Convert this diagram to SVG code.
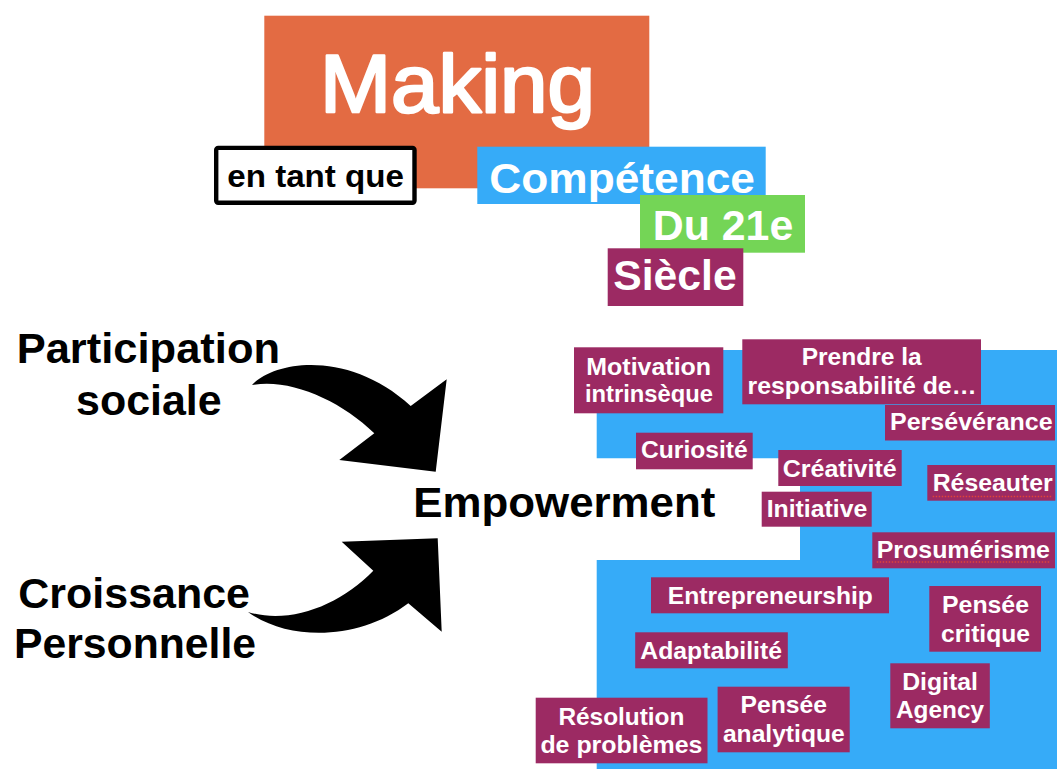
<svg xmlns="http://www.w3.org/2000/svg" width="1057" height="769" viewBox="0 0 1057 769">
<style>
text{font-family:"Liberation Sans",Arial,Helvetica,sans-serif;font-weight:bold}
.w{fill:#fff}
.k{fill:#000}
.big{font-size:43px}
.sm{font-size:24px}
.sk{fill:#9C2A63}
.sp{stroke:#E0443A;stroke-width:1.3;stroke-dasharray:1.5 1.5;fill:none}
</style>
<rect x="0" y="0" width="1057" height="769" fill="#fff"/>
<g id="background">
<path d="M596.7,350 H1057 V769 H596.7 V560 H800 V458.3 H596.7 Z" fill="#36ABF8"/>
</g>
<g id="title-making">
<rect x="264.3" y="15.7" width="385" height="172.6" fill="#E36B43"/>
<text x="320" y="111.7" font-size="81.5" class="w" stroke="#fff" stroke-width="2.6" stroke-linejoin="round" textLength="275" lengthAdjust="spacingAndGlyphs" style="font-weight:normal">Making</text>
</g>
<g id="title-en-tant-que">
<rect x="216.2" y="147.9" width="198.3" height="54.9" rx="2" fill="#fff" stroke="#000" stroke-width="4.4"/>
<text x="227.3" y="186.7" font-size="32" class="k" textLength="176.7" lengthAdjust="spacingAndGlyphs">en tant que</text>
</g>
<g id="title-competence">
<rect x="477.3" y="146.7" width="288.4" height="57.3" fill="#36ABF8"/>
<text x="489.3" y="193.3" class="w big" font-size="44" textLength="265.7" lengthAdjust="spacingAndGlyphs">Compétence</text>
</g>
<g id="title-du21e">
<rect x="640" y="195" width="165" height="57.7" fill="#74D556"/>
<text x="652.7" y="240" class="w big" textLength="140.6" lengthAdjust="spacingAndGlyphs">Du 21e</text>
</g>
<g id="title-siecle">
<rect x="607.7" y="248.3" width="135.6" height="57.7" fill="#9C2A63"/>
<text x="613.3" y="290" class="w big" textLength="123.4" lengthAdjust="spacingAndGlyphs">Siècle</text>
</g>
<g id="participation-sociale">
<text x="16.7" y="363.3" class="k big" textLength="263.3" lengthAdjust="spacingAndGlyphs">Participation</text>
<text x="76" y="415" class="k big" textLength="145.7" lengthAdjust="spacingAndGlyphs">sociale</text>
</g>
<g id="croissance-personnelle">
<text x="18.3" y="608.3" class="k big" textLength="231.7" lengthAdjust="spacingAndGlyphs">Croissance</text>
<text x="14" y="658.3" class="k big" textLength="242" lengthAdjust="spacingAndGlyphs">Personnelle</text>
</g>
<g id="empowerment">
<text x="413.3" y="517" class="k big" textLength="302" lengthAdjust="spacingAndGlyphs">Empowerment</text>
</g>
<g id="connectors">
<path d="M252,385 C275,360 350,350 410.7,406 L446.7,379.3 L435.7,471.7 L339.3,460 L374.3,433.3 C340,400 290,378 252,385 Z" fill="#000"/>
<path d="M248,612 C290,642 360,640 408.3,603.3 L441.7,631.7 L437.7,538.3 L341.7,541.7 L373.3,570.7 C340,605 290,625 248,612 Z" fill="#000"/>
</g>
<g id="motivation">
<rect class="sk" x="574" y="347.3" width="149.3" height="66"/>
<text x="648.7" y="375" class="w sm" text-anchor="middle" textLength="124.7" lengthAdjust="spacingAndGlyphs">Motivation</text>
<text x="649" y="401.7" class="w sm" text-anchor="middle" textLength="128" lengthAdjust="spacingAndGlyphs">intrinsèque</text>
</g>
<g id="prendre">
<rect class="sk" x="742.3" y="339.3" width="238.7" height="65"/>
<text x="861.7" y="365" class="w sm" text-anchor="middle" textLength="120" lengthAdjust="spacingAndGlyphs">Prendre la</text>
<text x="862" y="394" class="w sm" text-anchor="middle" textLength="229" lengthAdjust="spacingAndGlyphs">responsabilité de…</text>
</g>
<g id="perseverance">
<rect class="sk" x="885" y="405" width="170" height="35.5"/>
<text x="890" y="430" class="w sm" textLength="162.7" lengthAdjust="spacingAndGlyphs">Persévérance</text>
</g>
<g id="curiosite">
<rect class="sk" x="636" y="432.7" width="116.7" height="36.6"/>
<text x="641" y="458.3" class="w sm" textLength="106.7" lengthAdjust="spacingAndGlyphs">Curiosité</text>
</g>
<g id="creativite">
<rect class="sk" x="778.3" y="450" width="123.4" height="36"/>
<text x="782.7" y="476.7" class="w sm" textLength="114" lengthAdjust="spacingAndGlyphs">Créativité</text>
</g>
<g id="reseauter">
<rect class="sk" x="927.3" y="465" width="128" height="35.7"/>
<text x="932.7" y="490.7" class="w sm" textLength="120" lengthAdjust="spacingAndGlyphs">Réseauter</text>
<line class="sp" x1="932.7" y1="496.5" x2="1052.7" y2="496.5"/>
</g>
<g id="initiative">
<rect class="sk" x="761.7" y="491.7" width="110" height="35"/>
<text x="766.7" y="517.3" class="w sm" textLength="100.6" lengthAdjust="spacingAndGlyphs">Initiative</text>
</g>
<g id="prosumerisme">
<rect class="sk" x="872.3" y="532.3" width="182.7" height="36"/>
<text x="876.7" y="558.3" class="w sm" textLength="173.3" lengthAdjust="spacingAndGlyphs">Prosumérisme</text>
<line class="sp" x1="876.7" y1="562" x2="1050" y2="562"/>
</g>
<g id="entrepreneurship">
<rect class="sk" x="651" y="577.3" width="238" height="36"/>
<text x="667.8" y="604.3" class="w sm" textLength="205.1" lengthAdjust="spacingAndGlyphs">Entrepreneurship</text>
</g>
<g id="pensee-critique">
<rect class="sk" x="929.3" y="586" width="111.7" height="65.7"/>
<text x="985.5" y="613.3" class="w sm" text-anchor="middle" textLength="87" lengthAdjust="spacingAndGlyphs">Pensée</text>
<text x="985.5" y="641.7" class="w sm" text-anchor="middle" textLength="89" lengthAdjust="spacingAndGlyphs">critique</text>
</g>
<g id="adaptabilite">
<rect class="sk" x="635.2" y="632.3" width="152.6" height="36"/>
<text x="640.3" y="659" class="w sm" textLength="141.7" lengthAdjust="spacingAndGlyphs">Adaptabilité</text>
</g>
<g id="digital-agency">
<rect class="sk" x="890.3" y="663.3" width="99.5" height="65"/>
<text x="940" y="690" class="w sm" text-anchor="middle" textLength="75.7" lengthAdjust="spacingAndGlyphs">Digital</text>
<text x="940" y="718.3" class="w sm" text-anchor="middle" textLength="88" lengthAdjust="spacingAndGlyphs">Agency</text>
</g>
<g id="pensee-analytique">
<rect class="sk" x="717.6" y="686.7" width="132.1" height="65.6"/>
<text x="783.8" y="713.3" class="w sm" text-anchor="middle" textLength="86.5" lengthAdjust="spacingAndGlyphs">Pensée</text>
<text x="783.8" y="741.7" class="w sm" text-anchor="middle" textLength="121.7" lengthAdjust="spacingAndGlyphs">analytique</text>
</g>
<g id="resolution">
<rect class="sk" x="535.7" y="697.7" width="171.8" height="65.6"/>
<text x="621.4" y="725" class="w sm" text-anchor="middle" textLength="126" lengthAdjust="spacingAndGlyphs">Résolution</text>
<text x="621.4" y="753.3" class="w sm" text-anchor="middle" textLength="162" lengthAdjust="spacingAndGlyphs">de problèmes</text>
</g>
</svg>
